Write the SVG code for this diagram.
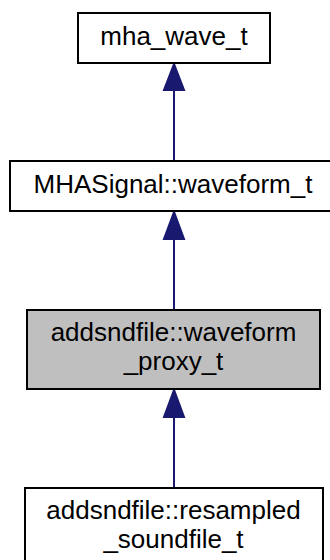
<svg xmlns="http://www.w3.org/2000/svg" width="330" height="560" viewBox="0 0 330 560">
<style>
.box{fill:#ffffff;stroke:#000000;stroke-width:2}
.cur{fill:#bfbfbf;stroke:#000000;stroke-width:2}
.lbl{font-family:"Liberation Sans",Arial,sans-serif;font-size:26px;fill:#000000;text-anchor:middle}
.edge{stroke:#191970;stroke-width:2;fill:none}
.head{fill:#191970;stroke:#191970;stroke-width:2}
</style>
<rect width="330" height="560" fill="#ffffff"/>
<g id="connectors">
<line class="edge" x1="174" y1="90" x2="174" y2="160"/>
<polygon class="head" points="174,64 164,90 184,90"/>
<line class="edge" x1="174" y1="239" x2="174" y2="310"/>
<polygon class="head" points="174,212 164,239 184,239"/>
<line class="edge" x1="174" y1="417" x2="174" y2="488"/>
<polygon class="head" points="174,390 164,417 184,417"/>
</g>
<g id="node_mha_wave_t">
<rect class="box" x="78" y="13" width="192" height="50"/>
<text class="lbl" x="174" y="45">mha_wave_t</text>
</g>
<g id="node_waveform_t">
<rect class="box" x="10" y="161" width="327" height="50"/>
<text class="lbl" x="173" y="193">MHASignal::waveform_t</text>
</g>
<g id="node_waveform_proxy_t">
<rect class="cur" x="27" y="310" width="293" height="79"/>
<text class="lbl" x="173.5" y="341">addsndfile::waveform</text>
<text class="lbl" x="173.5" y="370">_proxy_t</text>
</g>
<g id="node_resampled_soundfile_t">
<rect class="box" x="25" y="488" width="298" height="80"/>
<text class="lbl" x="173.5" y="519">addsndfile::resampled</text>
<text class="lbl" x="173.5" y="548">_soundfile_t</text>
</g>
</svg>
